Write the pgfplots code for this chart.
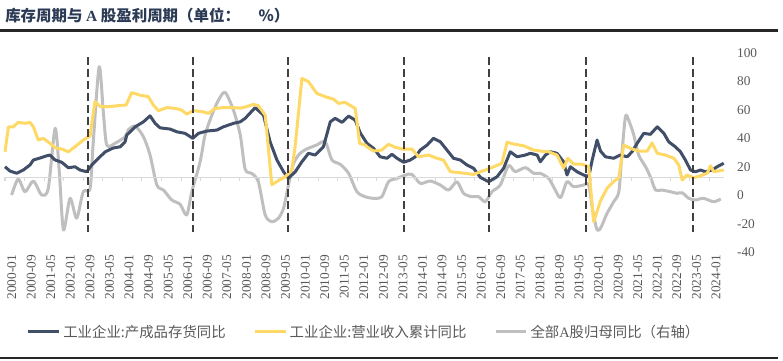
\documentclass[border=0pt]{standalone}
\usepackage{pgfplots}
\pgfplotsset{compat=1.18}
\usepackage{pgfplotstable}
\usetikzlibrary{calc}
\usepackage{fontspec}
\setmainfont{Liberation Serif}
\newfontfamily\cjk{Noto Sans CJK SC}
\definecolor{navy}{HTML}{404E68}
\definecolor{gold}{HTML}{FFD966}
\definecolor{lgray}{HTML}{BFBFBF}
\definecolor{txt}{HTML}{595959}
\definecolor{ttl}{HTML}{2B3A55}
\definecolor{zl}{HTML}{D9D9D9}
\definecolor{dsh}{HTML}{404040}

% left-axis series (hidden left axis: -30..50, mapped onto right axis -40..100)
\pgfplotstableread{
m L
0 4.3
2.0 2.6
4.8 1.7
7.5 3.0
10.2 5.0
11.6 7.0
14.3 7.8
17.1 8.7
18.4 9.0
20.5 7.0
23.2 6.1
25.9 3.9
28.6 4.3
30.7 3.0
33.4 2.3
35.5 5.0
38.2 7.7
41.0 10.3
44.2 11.8
47.1 12.3
49.1 14.3
49.8 17.0
53.2 20.3
56.6 22.3
59.3 24.7
61.4 21.7
63.4 19.9
67.5 19.4
70.3 18.3
73.6 17.7
76.8 15.7
79.1 17.7
82.5 18.6
86.6 19.0
89.3 20.3
93.4 21.7
96.2 22.3
98.2 23.7
102.3 28.0
105.7 25.0
108.4 14.3
111.2 7.0
113.9 2.3
115.9 -0.3
118.7 2.3
121.4 6.3
124.1 9.7
126.8 9.0
130.2 12.3
133.0 22.3
135.0 23.7
137.8 22.1
140.5 24.6
143.2 23.0
145.3 17.8
148.0 13.7
150.7 11.7
153.4 8.3
156.2 7.7
158.2 9.3
160.3 7.7
163.0 6.1
165.7 7.0
167.8 8.3
169.8 11.0
172.6 13.0
175.2 15.7
178.0 14.3
180.7 11.0
183.4 7.7
186.2 7.0
188.9 5.0
191.6 3.7
194.4 0.0
196.4 -1.0
197.8 -1.7
201.2 0.3
203.9 3.7
206.6 10.3
209.4 8.3
212.8 9.0
214.8 9.7
217.6 9.0
218.9 6.3
221.0 9.0
223.0 10.3
225.7 9.7
228.4 6.3
229.8 1.0
231.2 4.3
233.9 2.3
236.6 1.0
238.7 0.3
240.1 7.0
242.1 15.0
243.5 10.6
245.5 8.3
248.9 7.7
251.6 9.0
254.4 8.3
256.4 10.3
258.5 13.7
261.2 17.7
263.9 17.3
266.7 20.3
269.4 17.7
271.4 14.3
274.1 12.3
276.2 10.3
278.2 7.0
280.3 3.0
282.3 2.3
284.4 3.0
286.4 2.3
289.2 3.0
291.2 4.3
293.9 5.7
}\inventory

\pgfplotstableread{
m L
0 10.3
1.4 20.3
3.4 20.3
5.4 22.1
8.2 21.7
10.2 22.1
11.6 20.3
13.6 15.0
15.7 15.7
18.4 13.7
20.5 11.9
23.2 11.4
25.9 10.3
28.6 12.3
32.0 15.0
34.8 16.7
36.8 30.4
38.9 28.4
43.0 28.4
47.1 28.9
49.5 29.0
51.8 34.0
55.2 33.0
58.6 32.4
60.7 29.0
62.7 26.8
66.2 28.0
69.6 27.7
72.3 27.0
74.3 25.4
77.0 26.8
80.5 26.4
83.2 25.7
85.9 27.7
89.3 28.0
93.4 28.0
96.2 27.8
98.9 28.4
101.6 29.3
103.6 28.8
106.4 25.0
109.1 -2.9
111.2 -1.6
114.6 0.3
117.3 3.0
118.7 13.0
121.4 39.7
124.1 38.4
127.5 33.7
130.9 32.4
134.3 31.4
136.4 29.7
139.1 30.1
143.2 27.7
145.0 13.7
147.3 13.0
148.0 12.3
150.7 10.6
154.1 11.0
156.8 13.3
159.6 12.1
163.0 11.3
166.4 11.4
169.1 8.3
173.2 9.0
176.6 7.7
179.3 7.0
182.1 2.3
186.2 1.9
191.6 1.2
194.4 2.3
198.4 3.7
203.2 5.7
205.3 14.1
208.0 13.4
212.1 12.7
216.2 11.0
218.9 10.6
222.3 10.3
225.7 9.0
228.4 3.7
230.1 7.7
232.5 5.4
236.0 5.3
238.7 4.3
240.7 -17.7
243.5 -9.4
246.2 -4.3
248.9 -1.6
251.0 -0.1
253.0 13.0
255.7 11.7
259.1 10.6
262.6 10.6
264.6 13.9
266.7 9.7
270.0 9.0
273.5 7.7
275.5 5.0
276.9 -1.0
278.9 1.0
281.6 -0.1
284.4 0.7
287.1 1.7
288.5 4.7
289.8 2.3
293.9 3.0
}\revenue

% right-axis series
\pgfplotstableread{
m R
2.7 0.2
5.4 11.4
8.2 2.5
11.6 10.0
15.0 0.2
17.7 4.9
20.5 47.0
22.2 16.6
23.9 -24.3
26.6 -2.1
29.3 -16.1
32.0 2.5
34.8 4.9
36.1 37.6
38.5 90.2
40.2 58.6
41.6 35.3
45.0 36.5
49.1 41.1
50.4 45.8
53.2 48.6
56.6 41.1
59.3 28.3
62.1 7.2
64.8 3.7
68.2 -3.3
71.6 -6.3
74.3 -13.8
76.4 2.5
79.8 23.6
81.8 42.3
84.6 56.3
87.3 66.8
90.0 72.2
93.4 59.8
96.2 42.3
98.2 18.3
100.9 15.4
103.6 9.5
106.4 -13.8
109.1 -18.5
111.8 -16.1
113.9 -9.1
115.9 7.2
118.0 22.4
120.7 29.5
123.4 32.5
127.5 35.3
130.9 37.6
133.7 24.8
137.1 21.7
140.5 15.4
143.9 2.5
147.3 -1.0
150.7 -2.1
154.1 -1.0
156.8 9.5
160.3 11.9
163.7 14.2
166.4 14.7
169.8 8.4
173.9 10.0
178.0 7.2
181.4 3.7
184.8 9.5
187.5 1.4
190.9 -1.0
193.7 -1.0
196.4 -4.5
199.1 2.5
202.5 7.2
205.9 20.8
208.6 16.6
212.8 19.4
216.2 15.4
218.9 15.4
222.3 11.9
224.3 6.0
227.1 -1.7
229.8 9.5
232.5 6.0
236.6 7.2
238.7 7.2
240.4 -11.5
242.1 -24.3
243.5 -23.1
244.7 -18.6
246.2 -12.6
248.9 -4.5
251.0 2.5
252.2 28.3
253.7 55.1
255.0 52.8
257.1 42.3
259.1 28.3
261.9 20.1
263.9 13.0
266.0 3.7
268.6 3.7
272.1 2.5
274.8 1.4
276.9 1.8
279.6 -2.1
282.3 -3.3
285.6 -2.1
289.7 -4.5
292.7 -2.6
}\profit

\begin{document}
\begin{tikzpicture}
\begin{axis}[name=ax, scale only axis,
  width=539.25pt, height=149.7pt,
  xmin=0, xmax=294, ymin=-40, ymax=100,
  axis line style={draw=none},
  ytick={-40,-20,...,100}, yticklabel pos=right, major tick length=0pt,
  /pgf/number format/assume math mode=true,
  yticklabel style={text=txt, font=\fontsize{10}{12}\selectfont, anchor=west, xshift=6.3pt},
  xtick={0,8,...,288},
  xticklabels={2000-01,2000-09,2001-05,2002-01,2002-09,2003-05,2004-01,2004-09,2005-05,2006-01,2006-09,2007-05,2008-01,2008-09,2009-05,2010-01,2010-09,2011-05,2012-01,2012-09,2013-05,2014-01,2014-09,2015-05,2016-01,2016-09,2017-05,2018-01,2018-09,2019-05,2020-01,2020-09,2021-05,2022-01,2022-09,2023-05,2024-01},
  xticklabel style={rotate=90, anchor=east, text=txt, font=\fontsize{10}{12}\selectfont, yshift=-5pt, xshift=1.5pt},
  legend style={at={(0.5,-0.399)}, anchor=center, draw=none, fill=none,
    legend columns=3, font=\cjk\fontsize{10.8}{12}\selectfont, text=txt,
    /tikz/every even column/.append style={column sep=18.75pt}},
  legend cell align=left,
  legend image code/.code={\draw[#1] (0pt,0pt) -- (23pt,0pt);},
  clip=false]
\addplot[forget plot, lgray, line width=2.25pt, smooth, tension=0.45, line join=round] table[x=m,y=R] {\profit};
\addplot[forget plot, zl, line width=1.1pt] coordinates {(0,12.5) (294,12.5)};
\pgfplotsinvokeforeach{0,8,...,288}{\draw[zl, line width=0.8pt] (axis cs:#1,12.5) -- (axis cs:#1,9.8);}
\addplot[navy, line width=2.25pt, line join=round] table[x=m,y expr=12.5+1.75*\thisrow{L}] {\inventory};
\addlegendentry{工业企业:产成品存货同比}
\addplot[gold, line width=2.25pt, line join=round] table[x=m,y expr=12.5+1.75*\thisrow{L}] {\revenue};
\addlegendentry{工业企业:营业收入累计同比}
\addlegendimage{lgray, line width=2.25pt}
\addlegendentry{全部{\rmfamily A}股归母同比（右轴）}
\addplot[forget plot, dsh, line width=1.5pt, dash pattern=on 6pt off 3pt] coordinates {(34,97) (34,-26)};
\addplot[forget plot, dsh, line width=1.5pt, dash pattern=on 6pt off 3pt] coordinates {(77,97) (77,-26)};
\addplot[forget plot, dsh, line width=1.5pt, dash pattern=on 6pt off 3pt] coordinates {(115.8,97) (115.8,-26)};
\addplot[forget plot, dsh, line width=1.5pt, dash pattern=on 6pt off 3pt] coordinates {(163.3,97) (163.3,-26)};
\addplot[forget plot, dsh, line width=1.5pt, dash pattern=on 6pt off 3pt] coordinates {(198,97) (198,-26)};
\addplot[forget plot, dsh, line width=1.5pt, dash pattern=on 6pt off 3pt] coordinates {(237.7,97) (237.7,-26)};
\addplot[forget plot, dsh, line width=1.5pt, dash pattern=on 6pt off 3pt] coordinates {(281.5,97) (281.5,-26)};
\end{axis}
\node[anchor=base west, inner sep=0, text=ttl, font=\cjk\bfseries\fontsize{11.6}{13}\selectfont] at ($(ax.south west)+(0pt,173.1pt)$) {库存周期与 {\rmfamily A} 股盈利周期（单位：\hspace{1.2em}\%）};
\draw[line width=1.8pt, black!85] ($(ax.south west)+(-3.75pt,166.4pt)$) -- ++(583.5pt,0pt);
\draw[line width=1.5pt, black!85] ($(ax.south west)+(-3.75pt,-79.6pt)$) -- ++(583.5pt,0pt);
\pgfresetboundingbox
\path[use as bounding box] ($(ax.south west)+(-3.75pt,-81.5pt)$) rectangle ++(587.25pt,270.75pt);
\end{tikzpicture}
\end{document}
